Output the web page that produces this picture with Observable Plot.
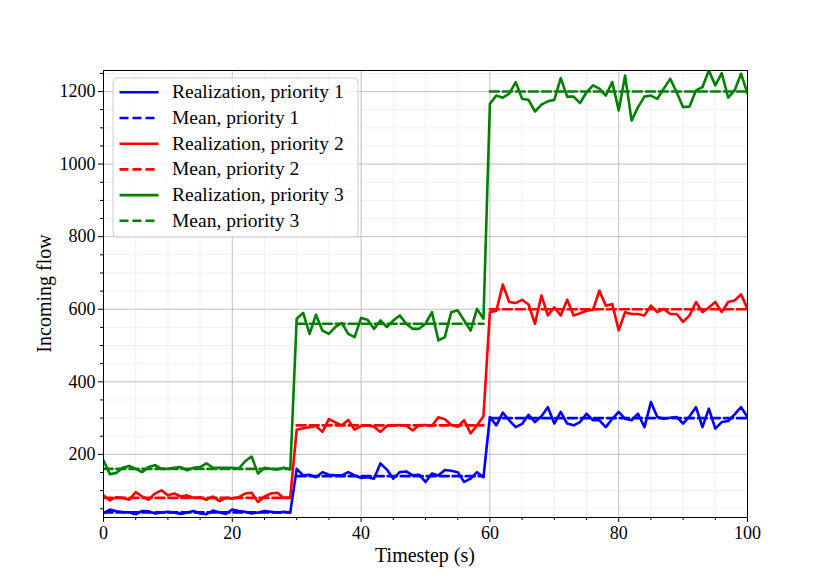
<!DOCTYPE html>
<html><head><meta charset="utf-8">
<script src="https://cdn.jsdelivr.net/npm/d3@7"></script>
<script src="https://cdn.jsdelivr.net/npm/@observablehq/plot@0.6"></script>
<style>body{margin:0;background:#fff}</style>
</head><body><div id="chart"></div>
<script>
// ---- data ----
const timesteps = Array.from({length: 101}, (_, i) => i);
const realization1 = [38,48,43,41,40,35,44,43,37,40,42,40,36,40,44,37,35,45,40,36,48,44,42,37,40,44,42,40,42,40,
  160,142,144,137,151,144,142,142,151,142,135,137,133,175,158,133,151,153,142,144,124,147,142,157,155,151,124,133,151,137,
  303,280,315,294,275,284,309,289,305,330,285,317,285,280,289,312,294,294,275,298,317,298,294,312,275,344,303,298,301,303,285,305,330,275,326,271,289,292,310,330,303];
const realization2 = [87,73,82,80,75,96,84,75,92,101,87,92,84,87,80,82,75,84,71,80,78,82,92,94,69,84,92,94,80,82,
  268,272,275,278,262,297,288,280,295,268,278,280,276,262,278,280,281,279,266,280,281,279,302,297,281,276,294,258,280,305,
  592,596,668,620,617,626,613,560,638,583,605,583,626,583,589,596,598,651,610,614,542,592,587,587,583,610,592,601,587,587,565,583,620,592,605,620,592,620,624,641,601];
const realization3 = [183,145,149,163,168,160,151,165,170,160,160,163,165,156,163,165,175,163,163,163,163,161,181,194,147,163,160,158,163,158,
  574,590,532,585,541,532,551,562,532,523,576,571,546,569,551,569,583,560,546,546,560,592,514,523,592,597,569,541,601,574,
  1166,1189,1183,1194,1226,1180,1177,1145,1164,1173,1177,1237,1186,1186,1168,1198,1217,1208,1189,1226,1148,1244,1120,1157,1186,1189,1180,1208,1235,1198,1157,1159,1203,1212,1258,1217,1251,1183,1203,1249,1194];
const segmentStart = [0, 30, 60];
const segmentEnd = [29, 59, 100];
const mean1 = [40, 140, 300];
const mean2 = [80, 280, 600];
const mean3 = [160, 560, 1200];
const seriesColors = ["#0000ff", "#ff0000", "#008000"];
const legendLabels = ["Realization, priority 1", "Mean, priority 1", "Realization, priority 2", "Mean, priority 2", "Realization, priority 3", "Mean, priority 3"];
const xMajorTicks = [0, 20, 40, 60, 80, 100];
const xMinorTicks = [5,10,15,25,30,35,45,50,55,65,70,75,85,90,95];
const yMajorTicks = [200, 400, 600, 800, 1000, 1200];
const yMinorTicks = [50,100,150,250,300,350,450,500,550,650,700,750,850,900,950,1050,1100,1150,1250];

// ---- tables ----
const realRows = [realization1, realization2, realization3].map(arr => timesteps.map((t, i) => ({t, v: arr[i]})));
const meanRows = [mean1, mean2, mean3].map(levels => levels.flatMap((lv, k) => [
  {t: segmentStart[k], v: lv, seg: k}, {t: segmentEnd[k], v: lv, seg: k}]));

const font = "'Liberation Serif', 'DejaVu Serif', serif";
const marks = [
  Plot.ruleX(xMinorTicks, {stroke: "#ebebeb", strokeWidth: 0.8}),
  Plot.ruleY(yMinorTicks, {stroke: "#ebebeb", strokeWidth: 0.8}),
  Plot.ruleX(xMajorTicks, {stroke: "#b0b0b0", strokeWidth: 0.8}),
  Plot.ruleY(yMajorTicks, {stroke: "#b0b0b0", strokeWidth: 0.8})
];
for (let p = 0; p < 3; p++) {
  marks.push(Plot.line(realRows[p], {x: "t", y: "v", stroke: seriesColors[p], strokeWidth: 2.6, clip: true}));
  marks.push(Plot.line(meanRows[p], {x: "t", y: "v", z: "seg", stroke: seriesColors[p], strokeWidth: 2.6, strokeDasharray: "9,4", clip: true}));
}
marks.push(
  Plot.frame({stroke: "#000", strokeWidth: 1}),
  Plot.axisX(xMinorTicks, {tickSize: 3, tickFormat: () => "", label: null, stroke: "#000"}),
  Plot.axisX(xMajorTicks, {tickSize: 5, tickPadding: 4, tickFormat: d => String(d), label: null, stroke: "#000", fill: "#000"}),
  Plot.axisY(yMinorTicks, {tickSize: 3, tickFormat: () => "", label: null, stroke: "#000"}),
  Plot.axisY(yMajorTicks, {tickSize: 5, tickPadding: 3, tickFormat: d => String(d), label: null, stroke: "#000", fill: "#000"})
);

const chart = Plot.plot({
  width: 830, height: 581,
  marginLeft: 103, marginRight: 83, marginTop: 70, marginBottom: 64,
  x: {domain: [0, 100]},
  y: {domain: [26, 1258]},
  style: {fontFamily: font, fontSize: "18px", color: "#000", background: "#fff"},
  marks
});
document.getElementById("chart").appendChild(chart);

// ---- axis labels & legend ----
const svg = d3.select(chart);
svg.append("text").attr("x", 425).attr("y", 562).attr("text-anchor", "middle")
  .attr("font-family", font).attr("font-size", 20).attr("fill", "#000").text("Timestep (s)");
svg.append("text").attr("transform", "translate(51,293.5) rotate(-90)").attr("text-anchor", "middle")
  .attr("font-family", font).attr("font-size", 20).attr("fill", "#000").text("Incoming flow");

const lg = svg.append("g").attr("text-anchor", "start");
lg.append("rect").attr("x", 113).attr("y", 78).attr("width", 245).attr("height", 159).attr("rx", 4)
  .attr("fill", "#fff").attr("fill-opacity", 0.8).attr("stroke", "#cccccc").attr("stroke-width", 1);
legendLabels.forEach((lab, i) => {
  const y = 92.3 + i * 25.7;
  lg.append("line").attr("x1", 119.5).attr("x2", 158.5).attr("y1", y).attr("y2", y)
    .attr("stroke", seriesColors[Math.floor(i / 2)]).attr("stroke-width", 2.6)
    .attr("stroke-dasharray", i % 2 ? "9,4" : null);
  lg.append("text").attr("x", 172).attr("y", y + 6).attr("text-anchor", "start")
    .attr("font-family", font).attr("font-size", 19.5).attr("fill", "#000").text(lab);
});
</script></body></html>
